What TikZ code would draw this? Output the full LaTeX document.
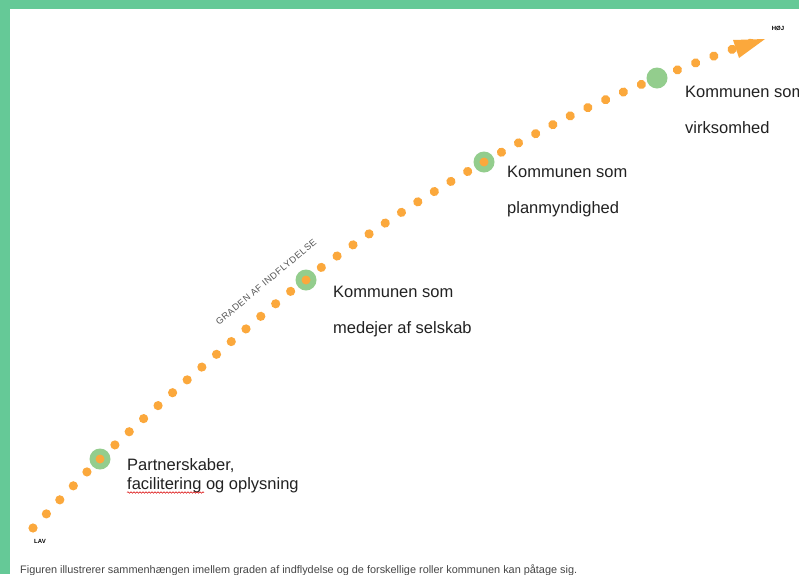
\documentclass[tikz,border=0pt]{standalone}
\usepackage{fontspec}
\usepackage{graphicx}
\setmainfont{Liberation Sans}
\usetikzlibrary{decorations.pathmorphing}
\definecolor{bandgreen}{RGB}{101,201,151}
\definecolor{dotorange}{RGB}{251,168,60}
\definecolor{softgreen}{RGB}{147,205,141}
\definecolor{txt}{RGB}{34,34,34}
\definecolor{captxt}{RGB}{70,70,70}
\definecolor{axtxt}{RGB}{85,85,85}
\begin{document}
\begin{tikzpicture}[x=1pt,y=-1pt,
  lbl/.style={anchor=base west, inner sep=0pt, text=txt, font=\fontsize{16.5}{18}\selectfont},
  tag/.style={inner sep=0pt, text=black, font=\fontsize{6}{7}\selectfont\bfseries},
  rolecircle/.style={circle, fill=softgreen, minimum size=21pt, inner sep=0pt},
  centerdot/.style={circle, fill=dotorange, minimum size=9pt, inner sep=0pt},
  dotline/.style={draw=dotorange, line width=9.2pt, line cap=round, dash pattern=on 0.01pt off 19.44pt},
]
\useasboundingbox (0,0) rectangle (799,574);
\fill[white] (0,0) rectangle (799,574);
\fill[bandgreen] (0,0) rectangle (799,9);
\fill[bandgreen] (0,0) rectangle (10,574);

% end points
\coordinate (lo) at (33,528);
\coordinate (hi) at (765,39);

% dotted curve
\path[dotline]
  plot[smooth] coordinates {(lo) (100,459) (187,380) (306,279) (402,212) (484,162) (572,115) (657,78) (733,49) (hi)};
% arrow head
\fill[dotorange] (hi) -- ++(-32,1) -- ++(6,18) -- cycle;

% role circles
\node[rolecircle] (r1) at (100,459) {};
\node[rolecircle] (r2) at (306,280) {};
\node[rolecircle] (r3) at (484,162) {};
\node[rolecircle] (r4) at (657,78) {};
\node[centerdot] at (r1) {};
\node[centerdot] at (r2) {};
\node[centerdot] at (r3) {};

% end labels
\node[tag] (lav) at (40,541) {LAV};
\node[tag] (hoj) at (778,28) {HØJ};

% axis label
\node[inner sep=0pt, rotate=40, text=axtxt] (axis) at (266,282)
  {\resizebox{128pt}{!}{\fontsize{8}{9}\selectfont\addfontfeatures{LetterSpace=6}GRADEN AF INDFLYDELSE}};

% role labels
\node[lbl] (p1) at (127,470) {Partnerskaber,};
\node[lbl] (p2) at (127,489) {facilitering og oplysning};
\draw[red!85!black, line width=0.5pt, decorate, decoration={snake, amplitude=0.8pt, segment length=3pt}]
  ([yshift=-3.5pt]p2.base west) -- ++(77,0);

\node[lbl] (m1) at (333,297) {Kommunen som};
\node[lbl] (m2) at (333,333) {medejer af selskab};

\node[lbl] (n1) at (507,177) {Kommunen som};
\node[lbl] (n2) at (507,213) {planmyndighed};

\node[lbl] (v1) at (685,97) {Kommunen som};
\node[lbl] (v2) at (685,133) {virksomhed};

% caption
\node[anchor=base west, inner sep=0pt, text=captxt] (cap) at (20,573.5)
  {\resizebox{557pt}{!}{\fontsize{10}{12}\selectfont Figuren illustrerer sammenhængen imellem graden af indflydelse og de forskellige roller kommunen kan påtage sig.}};
\end{tikzpicture}
\end{document}
